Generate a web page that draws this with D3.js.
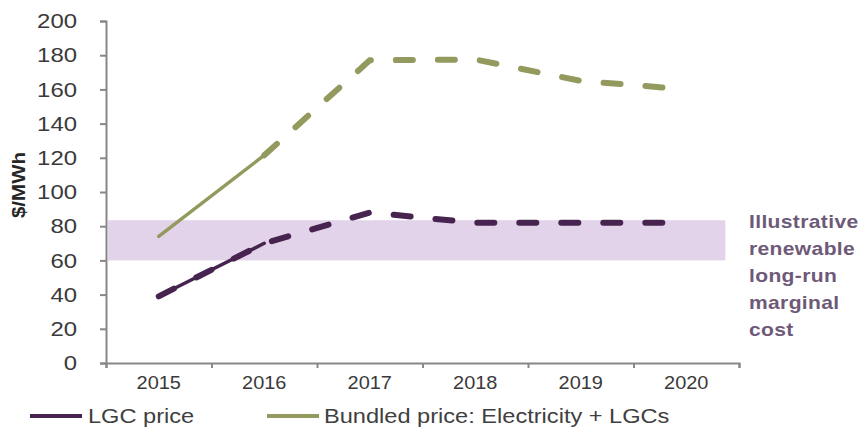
<!DOCTYPE html>
<html>
<head>
<meta charset="utf-8">
<script src="https://cdn.jsdelivr.net/npm/d3@7"></script>
<style>
  html, body { margin: 0; padding: 0; background: #fff; }
  svg { display: block; }
  text { font-family: "Liberation Sans", Arial, sans-serif; }
</style>
</head>
<body>
<svg id="chart" width="862" height="428"></svg>
<script>
// ---- data ----
const years = ["2015", "2016", "2017", "2018", "2019", "2020"];
const lgcPrice = [39, 70, 88, 82, 82, 82];
const bundledPrice = [74, 121.5, 177, 177.5, 165, 160];
const actualYearCount = 2; // 2015-2016 drawn solid, the rest is projection
const yTicks = [0, 20, 40, 60, 80, 100, 120, 140, 160, 180, 200];
const lrmcBand = [60, 83.5];
const annotationLines = ["Illustrative", "renewable", "long-run", "marginal", "cost"];
const legendLabels = ["LGC price", "Bundled price: Electricity + LGCs"];
const yTitle = "$/MWh";

// ---- styles ----
const purple = "#47244f";
const green = "#949a5d";
const bandFill = "#e2d3ea";
const axisGrey = "#878787";
const textGrey = "#3a3a3a";
const noteColor = "#6e5a78";
const SX = 1.14; // horizontal stretch of the original text

const svg = d3.select("#chart");

const x0 = 106, x1 = 739, yTop = 21, yBot = 363;
const y = d3.scaleLinear().domain([0, 200]).range([yBot, yTop]);
const xb = d3.scaleBand().domain(years).range([x0, x1]);
const xl = d3.scaleLinear().domain([0, years.length]).range([x0, x1]);
const xc = yr => xb(yr) + xb.bandwidth() / 2;

// band
svg.append("rect")
  .attr("x", xl(0.02))
  .attr("width", xl(5.87) - xl(0.02))
  .attr("y", y(lrmcBand[1]))
  .attr("height", y(lrmcBand[0]) - y(lrmcBand[1]))
  .attr("fill", bandFill);

// y axis
const gy = svg.append("g").attr("transform", `translate(${x0},0)`)
  .call(d3.axisLeft(y).tickValues(yTicks).tickSize(6).tickSizeOuter(6).tickPadding(23));
gy.selectAll("path, line").attr("stroke", axisGrey).attr("stroke-width", 2);
gy.selectAll("text")
  .attr("fill", textGrey)
  .attr("font-size", 21)
  .attr("x", -29 / SX)
  .attr("transform", `scale(${SX},1)`);

// x axis boundaries
const gx = svg.append("g").attr("transform", `translate(0,${yBot})`)
  .call(d3.axisBottom(xl).tickValues(d3.range(years.length + 1)).tickSize(5).tickSizeOuter(5).tickFormat(""));
gx.selectAll("path, line").attr("stroke", axisGrey).attr("stroke-width", 2);

// x labels
const gxl = svg.append("g").attr("transform", `translate(0,${yBot})`)
  .call(d3.axisBottom(xb).tickSize(0).tickPadding(14));
gxl.select(".domain").remove();
gxl.selectAll("text")
  .attr("fill", textGrey)
  .attr("font-size", 17.5)
  .attr("transform", `scale(${SX},1)`);
gxl.selectAll(".tick").each(function(d) {
  d3.select(this).attr("transform", `translate(${xc(d)},0)`);
});

// y title
svg.append("text")
  .attr("transform", `translate(25,185) rotate(-90) scale(${SX},1)`)
  .attr("text-anchor", "middle")
  .attr("font-size", 18)
  .attr("font-weight", "bold")
  .attr("fill", "#262626")
  .text(yTitle);

// lines
const lgcData = years.map((yr, i) => ({ year: yr, v: lgcPrice[i] }));
const bunData = years.map((yr, i) => ({ year: yr, v: bundledPrice[i] }));
const line = d3.line().x(d => xc(d.year)).y(d => y(d.v));

// solid actual parts
svg.append("path").datum(bunData.slice(0, actualYearCount))
  .attr("d", line).attr("fill", "none").attr("stroke", green)
  .attr("stroke-width", 3.5).attr("stroke-linecap", "round");
svg.append("path").datum(lgcData.slice(0, actualYearCount))
  .attr("d", line).attr("fill", "none").attr("stroke", purple)
  .attr("stroke-width", 3.5).attr("stroke-linecap", "round");

// dashed projections
svg.append("path").datum(bunData.slice(actualYearCount - 1))
  .attr("d", line).attr("fill", "none").attr("stroke", green)
  .attr("stroke-width", 6).attr("stroke-linecap", "round")
  .attr("stroke-dasharray", "17,25");
svg.append("path").datum(lgcData)
  .attr("d", line).attr("fill", "none").attr("stroke", purple)
  .attr("stroke-width", 6).attr("stroke-linecap", "round")
  .attr("stroke-dasharray", "17,25");

// annotation
const note = svg.append("g");
annotationLines.forEach((t, i) => {
  note.append("text")
    .attr("transform", `translate(749,${228 + i * 27}) scale(1.17,1)`)
    .attr("font-size", 18)
    .attr("font-weight", "bold")
    .attr("fill", noteColor)
    .attr("letter-spacing", 0.3)
    .text(t);
});

// legend
const legendItems = [
  { label: legendLabels[0], color: purple, lx: 30, tx: 88 },
  { label: legendLabels[1], color: green, lx: 267, tx: 324 }
];
const lg = svg.append("g");
legendItems.forEach(it => {
  lg.append("line")
    .attr("x1", it.lx).attr("x2", it.lx + 52)
    .attr("y1", 416).attr("y2", 416)
    .attr("stroke", it.color).attr("stroke-width", 4);
  lg.append("text")
    .attr("transform", `translate(${it.tx},423) scale(${SX + 0.04},1)`)
    .attr("font-size", 20)
    .attr("fill", "#404040")
    .text(it.label);
});
</script>
</body>
</html>
